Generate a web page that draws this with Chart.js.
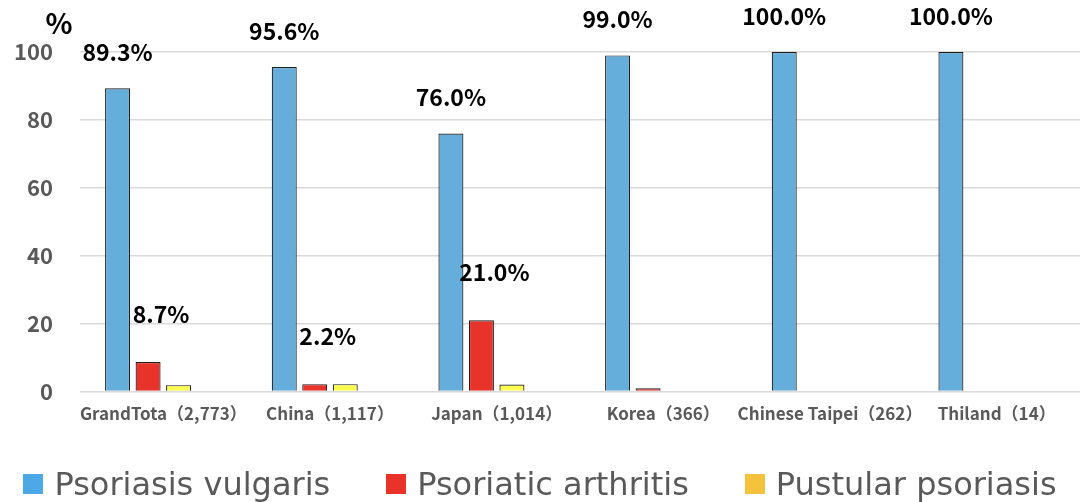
<!DOCTYPE html>
<html>
<head>
<meta charset="utf-8">
<script src="https://cdn.jsdelivr.net/npm/chart.js@4.4.1/dist/chart.umd.min.js"></script>
<style>
  html, body { margin: 0; padding: 0; background: #fff; }
  #wrap { position: relative; width: 1080px; height: 502px; }
  #legend {
    position: absolute; left: 0; top: 466px; width: 1080px; height: 36px;
    display: flex; justify-content: center; align-items: center; gap: 56px;
    font-family: "DejaVu Sans", sans-serif; font-size: 32px; color: #595959;
  }
  #legend span.item { display: flex; align-items: center; white-space: nowrap; }
  #legend span.box { display: inline-block; width: 20px; height: 20px; margin-right: 11px; }
</style>
</head>
<body>
<div id="wrap">
  <canvas id="types" width="1080" height="502"></canvas>
  <div id="legend"></div>
</div>
<script>
// categories and values (%)
const countries = ['GrandTota（2,773）', 'China（1,117）', 'Japan（1,014）', 'Korea（366）', 'Chinese Taipei（262）', 'Thiland（14）'];
const vulgaris = [89.3, 95.6, 76.0, 99.0, 100.0, 100.0];
const arthritis = [8.7, 2.2, 21.0, 1.0, 0, 0];
const pustular = [1.9, 2.2, 2.1, 0, 0, 0];
const yTicks = [0, 20, 40, 60, 80, 100];

const vulgarisLabels = ['89.3%', '95.6%', '76.0%', '99.0%', '100.0%', '100.0%'];
const arthritisLabels = ['8.7%', '2.2%', '21.0%', '', '', ''];

const seriesNames = ['Psoriasis vulgaris', 'Psoriatic arthritis', 'Pustular psoriasis'];
const legendColors = ['#4DA8E8', '#E8322A', '#F4C23C'];

const tickGray = '#595959';
const jp = '"Noto Sans CJK JP", "Noto Sans", sans-serif';

// percentages over the bars, placed from the bar elements
const barLabels = {
  id: 'barLabels',
  afterDatasetsDraw(chart) {
    const ctx = chart.ctx;
    ctx.save();
    ctx.fillStyle = '#000';
    ctx.font = 'bold 23px ' + jp;
    ctx.textAlign = 'center';
    ctx.textBaseline = 'middle';
    chart.getDatasetMeta(0).data.forEach((bar, i) => {
      if (vulgarisLabels[i]) ctx.fillText(vulgarisLabels[i], bar.x, bar.y - 36);
    });
    chart.getDatasetMeta(1).data.forEach((bar, i) => {
      if (arthritisLabels[i]) ctx.fillText(arthritisLabels[i], bar.x + 13, bar.y - 48);
    });
    // unit mark over the value axis
    const y = chart.scales.y;
    ctx.font = 'bold 28px ' + jp;
    ctx.fillText('%', y.right - 21, 23);
    ctx.restore();
  }
};

const chart = new Chart(document.getElementById('types'), {
  type: 'bar',
  data: {
    labels: countries,
    datasets: [
      { label: seriesNames[0], data: vulgaris, backgroundColor: '#65AEDC', borderColor: '#1E1E1E', borderWidth: 1.2 },
      { label: seriesNames[1], data: arthritis, backgroundColor: '#E8332A', borderColor: '#1E1E1E', borderWidth: 1.2 },
      { label: seriesNames[2], data: pustular, backgroundColor: '#FFFF50', borderColor: '#1E1E1E', borderWidth: 1.2 },
      { label: '', data: countries.map(() => null) } // empty slot kept by the source chart
    ]
  },
  options: {
    responsive: false,
    animation: false,
    categoryPercentage: 0.732,
    barPercentage: 0.82,
    layout: { padding: { top: 52, right: 0, left: 0, bottom: 66 } },
    plugins: {
      tooltip: { enabled: false },
      legend: { display: false }
    },
    scales: {
      x: {
        grid: { display: false, drawTicks: false },
        border: { display: false },
        ticks: { color: tickGray, font: { family: jp, size: 17, weight: 'bold' }, padding: 12, maxRotation: 0, autoSkip: false }
      },
      y: {
        min: 0,
        max: 100,
        afterBuildTicks: scale => { scale.ticks = yTicks.map(v => ({ value: v })); },
        afterFit: scale => { scale.width = 80; },
        grid: { color: '#D9D9D9', lineWidth: 1.5, drawTicks: false },
        border: { display: false },
        ticks: { color: tickGray, font: { family: jp, size: 22, weight: 'bold' }, padding: 27 }
      }
    }
  },
  plugins: [barLabels]
});

// legend row under the plot
const legendEl = document.getElementById('legend');
seriesNames.forEach((name, i) => {
  const item = document.createElement('span');
  item.className = 'item';
  const box = document.createElement('span');
  box.className = 'box';
  box.style.background = legendColors[i];
  item.appendChild(box);
  item.appendChild(document.createTextNode(name));
  legendEl.appendChild(item);
});
</script>
</body>
</html>
